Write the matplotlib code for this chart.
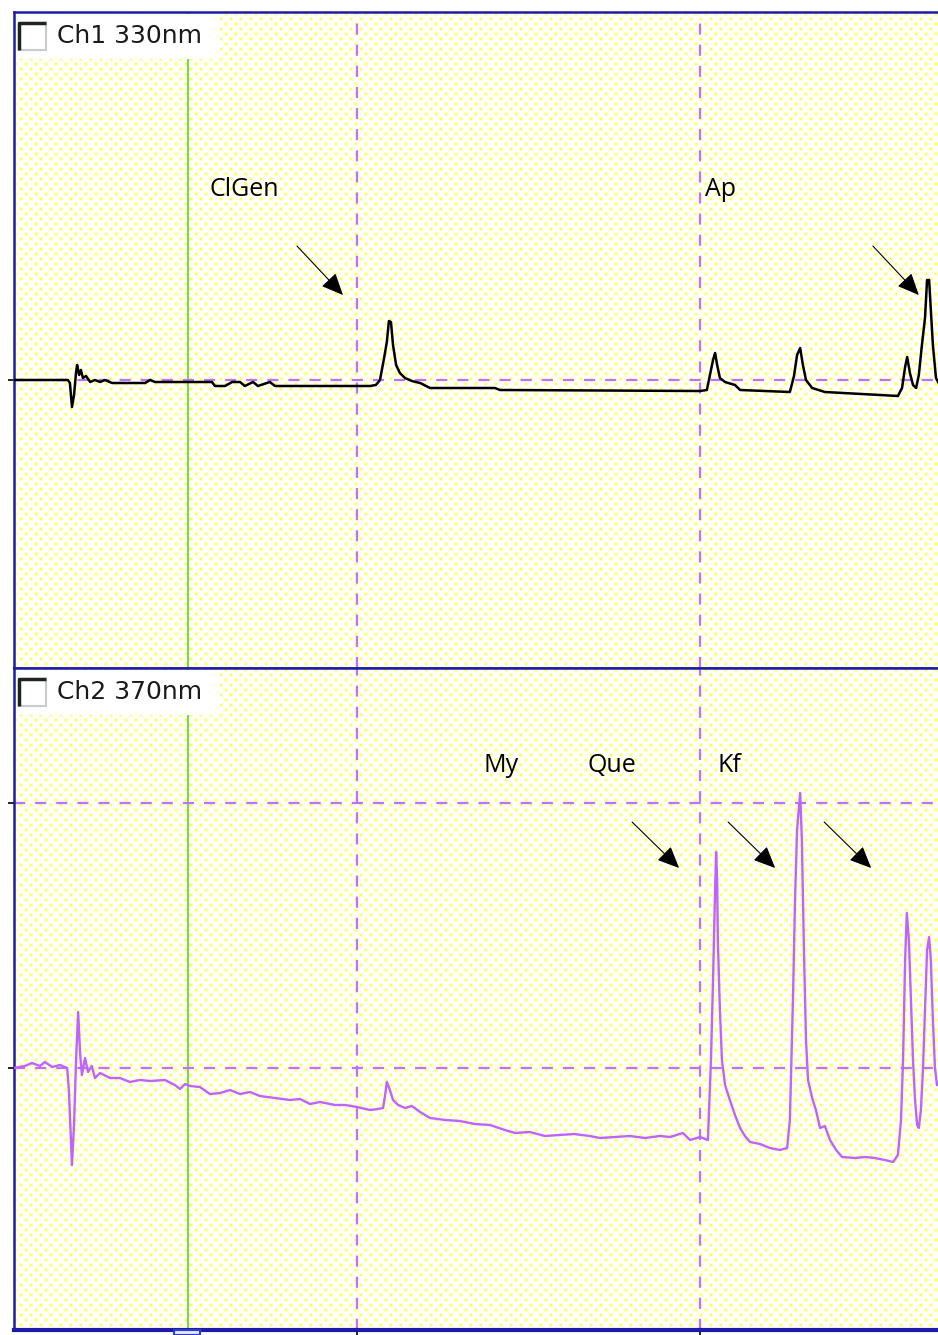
import numpy as np
import matplotlib
matplotlib.use("Agg")
import matplotlib.pyplot as plt
from matplotlib.patches import Rectangle

# ---- data ----
# channel 1 (330 nm): retention time (min) and signal (arbitrary units)
ch1_time = [0.00, 1.57, 1.63, 1.69, 1.75, 1.81, 1.84, 1.90, 1.95, 2.01, 2.10, 2.22,
            2.36, 2.51, 2.65, 2.86, 3.82, 3.97, 4.11, 5.77, 5.86, 6.15, 6.36, 6.59,
            6.73, 6.97, 7.11, 7.46, 7.61, 10.38, 10.55, 10.67, 10.79, 10.87, 10.93,
            10.99, 11.05, 11.14, 11.25, 11.40, 11.60, 11.84, 12.13, 14.02, 14.17,
            20.00, 20.20, 20.29, 20.38, 20.44, 20.50, 20.58, 20.73, 21.02, 21.17,
            22.62, 22.74, 22.83, 22.92, 23.00, 23.09, 23.27, 23.64, 25.25, 25.77,
            25.89, 25.98, 26.04, 26.12, 26.21, 26.30, 26.38, 26.47, 26.56, 26.62,
            26.68, 26.73, 26.79, 26.88, 26.94]
ch1_signal = [0, 0, -3, -27, -15, 8, 15, 5, 10, 2, 4, -2,
              0, -2, 0, -3, -3, 0, -2, -2, -6, -6, -2, -2,
              -6, -2, -6, -2, -6, -6, -5, 0, 22, 38, 59,
              58, 35, 15, 7, 2, -1, -3, -8, -8, -10,
              -11, -10, 5, 20, 27, 15, 2, -2, -5, -10,
              -12, 4, 25, 32, 15, 0, -8, -12, -15, -16,
              -8, 13, 23, 7, -5, -8, 5, 35, 62, 100,
              100, 70, 35, 2, -2]

# channel 2 (370 nm)
ch2_time = [0.00, 0.32, 0.52, 0.76, 0.90, 1.11, 1.34, 1.55, 1.60, 1.66, 1.69, 1.75,
            1.81, 1.87, 1.93, 1.98, 2.07, 2.16, 2.27, 2.36, 2.51, 2.80, 3.09, 3.38,
            3.67, 3.97, 4.40, 4.69, 4.84, 4.99, 5.13, 5.42, 5.71, 6.01, 6.30, 6.59,
            6.88, 7.17, 7.61, 8.05, 8.34, 8.63, 8.92, 9.36, 9.65, 10.00, 10.38,
            10.61, 10.76, 10.82, 10.87, 10.96, 11.05, 11.20, 11.40, 11.60, 11.84,
            12.13, 12.57, 13.00, 13.44, 13.88, 14.31, 14.61, 15.04, 15.48, 15.92,
            16.33, 16.79, 17.08, 17.52, 17.96, 18.40, 18.83, 19.13, 19.50, 19.71,
            20.00, 20.23, 20.32, 20.38, 20.44, 20.47, 20.50, 20.52, 20.58, 20.64,
            20.73, 20.87, 21.02, 21.17, 21.31, 21.46, 21.75, 22.04, 22.33, 22.54,
            22.62, 22.71, 22.77, 22.83, 22.92, 22.97, 23.03, 23.09, 23.15, 23.27,
            23.38, 23.50, 23.64, 23.79, 23.97, 24.14, 24.52, 24.81, 25.10, 25.39,
            25.63, 25.77, 25.86, 25.92, 25.98, 26.03, 26.09, 26.15, 26.21, 26.27,
            26.33, 26.38, 26.44, 26.50, 26.56, 26.62, 26.68, 26.73, 26.79, 26.85,
            26.91]
ch2_signal = [0, 2, 5, 2, 6, 1, 3, 0, -22, -72, -97, -57,
              8, 56, 13, -7, 10, -4, 2, -10, -5, -10, -10, -14,
              -12, -13, -12, -17, -21, -16, -18, -19, -26, -25, -22, -26,
              -24, -28, -30, -32, -31, -36, -34, -37, -37, -39, -42,
              -41, -40, -27, -14, -22, -32, -37, -40, -38, -44,
              -50, -52, -53, -56, -57, -62, -65, -64, -68, -67,
              -66, -68, -70, -69, -68, -70, -68, -69, -65, -72,
              -69, -72, 8, 88, 178, 216, 188, 128, 58, 8,
              -17, -32, -47, -60, -68, -74, -76, -80, -82, -80,
              -52, 68, 168, 238, 275, 228, 118, 28, -12, -30,
              -42, -60, -58, -72, -82, -89, -90, -89, -90, -92,
              -94, -87, -52, 8, 108, 155, 128, 68, 8, -32,
              -57, -60, -42, -2, 58, 118, 131, 108, 48, 0,
              -17]

channels = ["Ch1 330nm", "Ch2 370nm"]
ch1_peaks = ["ClGen", "Ap"]
ch2_peaks = ["My", "Que", "Kf"]
grid_times = [10, 20]
cursor_time = 5.07

PURPLE = "#c070ff"
TRACE2 = "#bf63ff"
BLUE = "#1c1ca8"
GREEN = "#6ee03a"

W, H = 938, 1335
fig = plt.figure(figsize=(W / 100, H / 100), dpi=100)
fig.patch.set_facecolor("white")

left = 14 / W
width = 1 - left
ax1 = fig.add_axes([left, (H - 668) / H, width, (668 - 12) / H])
ax2 = fig.add_axes([left, (H - 1330) / H, width, (1330 - 668) / H])
xmax = (W - 14) / 34.3
limits = [(-288, 368), (-262, 400)]


def dot_texture(h, w):
    # staggered yellow dot screen like the software's plot background
    img = np.ones((h, w, 3))
    yy, xx = np.mgrid[0:h, 0:w]
    for oy, ox in [(0, 0), (5, 5)]:
        ry, rx = (yy + oy) % 10, (xx + ox) % 10
        halo = (ry < 4) & (rx < 4)
        core = (ry >= 1) & (ry < 3) & (rx >= 1) & (rx < 3)
        img[halo & ~core] = [1.0, 1.0, 0.78]
        img[core] = [1.0, 1.0, 0.3]
    return img


for ax, ylim in zip([ax1, ax2], limits):
    bb = ax.get_position()
    h, w = int(round(bb.height * H)), int(round(bb.width * W))
    ax.imshow(dot_texture(h, w), extent=(0, xmax, ylim[0], ylim[1]),
              aspect="auto", interpolation="nearest", zorder=0)
    ax.set_xlim(0, xmax)
    ax.set_ylim(*ylim)
    for s in ["left", "top", "bottom"]:
        ax.spines[s].set_color(BLUE)
        ax.spines[s].set_linewidth(1.8)
    ax.spines["right"].set_visible(False)
    for t in grid_times:
        ax.axvline(t, color=PURPLE, lw=1.6, ls=(0, (5, 4.5)), zorder=2)
    ax.axvline(cursor_time, color=GREEN, lw=1.4, zorder=2)
    ax.tick_params(axis="both", direction="out", color="black", length=4.5,
                   width=1.2, labelleft=False, labelbottom=False)

ax2.spines["bottom"].set_linewidth(3)

# horizontal reference levels
ax1.axhline(0, color=PURPLE, lw=1.6, ls=(0, (5, 4.5)), zorder=2)
ax2.axhline(0, color=PURPLE, lw=1.6, ls=(0, (5, 4.5)), zorder=2)
ax2.axhline(265, color=PURPLE, lw=1.6, ls=(0, (5, 4.5)), zorder=2)

ax1.set_yticks([0])
ax1.set_xticks([])
ax2.set_yticks([0, 265])
ax2.set_xticks(grid_times)

# traces
ax1.plot(ch1_time, ch1_signal, color="black", lw=1.8, zorder=4)
ax2.plot(ch2_time, ch2_signal, color=TRACE2, lw=1.7, zorder=4)

# channel label boxes with a sunken checkbox
for ax, name in zip([ax1, ax2], channels):
    bb = ax.get_position()
    pw, ph = bb.width * W, bb.height * H
    ax.add_patch(Rectangle((2 / pw, 1 - 47 / ph), 204 / pw, 45 / ph,
                           transform=ax.transAxes, facecolor="white",
                           edgecolor="none", zorder=6))
    ax.add_patch(Rectangle((5 / pw, 1 - 38 / ph), 27 / pw, 27 / ph,
                           transform=ax.transAxes, facecolor="white",
                           edgecolor="#c6cccc", lw=1.5, zorder=7))
    ax.plot([5 / pw, 5 / pw, 32 / pw], [1 - 38 / ph, 1 - 11 / ph, 1 - 11 / ph],
            transform=ax.transAxes, color="#1e2424", lw=2.5, zorder=8,
            solid_capstyle="butt")
    ax.text(43 / pw, 1 - 24 / ph, name, transform=ax.transAxes,
            fontsize=18, color="#1a1a1a", va="center", ha="left",
            family="DejaVu Sans", zorder=9)

# peak labels
lab_font = dict(fontsize=18, color="black", family="Open Sans", va="center", ha="left", zorder=9)
for name, (tx, ty) in zip(ch1_peaks, [(5.71, 190), (20.15, 190)]):
    ax1.text(tx, ty, name, **lab_font)
for name, (tx, ty) in zip(ch2_peaks, [(13.70, 302), (16.73, 302), (20.52, 302)]):
    ax2.text(tx, ty, name, **lab_font)

arrow = dict(arrowstyle="-|>,head_length=0.9,head_width=0.4", color="black",
             lw=0.8, mutation_scale=15, shrinkA=0, shrinkB=0)
for x0 in [8.25, 25.04]:
    ax1.annotate("", xy=(x0 + 1.34, 85), xytext=(x0, 134), arrowprops=arrow, zorder=9)
for x0 in [18.02, 20.82, 23.62]:
    ax2.annotate("", xy=(x0 + 1.37, 200), xytext=(x0, 246), arrowprops=arrow, zorder=9)

# small cursor marker under the bottom axis
fig.add_artist(Rectangle((174 / W, 0), 26 / W, 5 / H, transform=fig.transFigure,
                         facecolor="#dfe6ff", edgecolor="#2a3cc8", lw=1.5))

fig.savefig("out.png", dpi=100)
